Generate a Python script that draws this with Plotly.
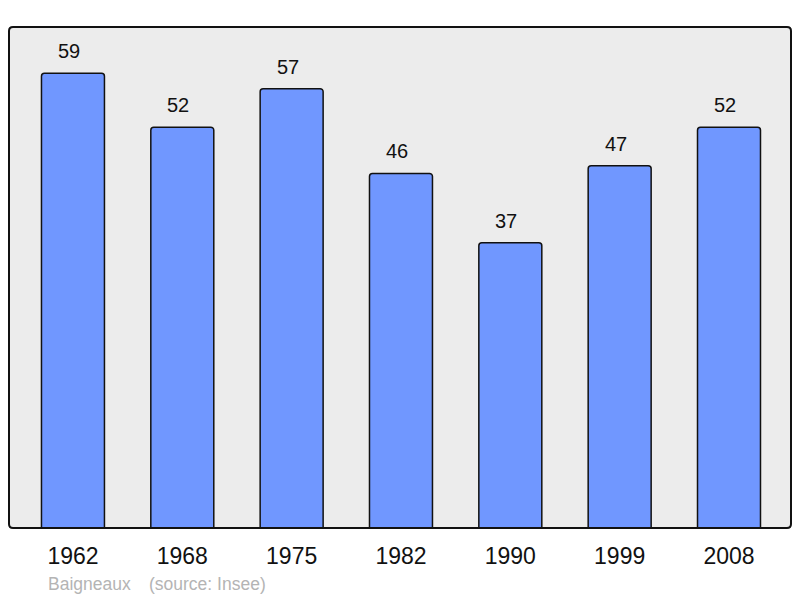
import plotly.graph_objects as go

years = ["1962", "1968", "1975", "1982", "1990", "1999", "2008"]
population = [59, 52, 57, 46, 37, 47, 52]
place = "Baigneaux"
source = "(source: Insee)"

FONT = "Liberation Sans, Arial, sans-serif"

fig = go.Figure()
fig.add_trace(go.Bar(
    x=years, y=population,
    width=0.576,
    marker=dict(color="#7097ff", line=dict(color="#111111", width=1.5), cornerradius=3),
    hoverinfo="x+y",
))

for i, v in enumerate(population):
    fig.add_annotation(x=i, y=v, text=str(v), showarrow=False,
                       yanchor="bottom", yshift=9, xshift=-4,
                       font=dict(family=FONT, size=20, color="#111111"))

# rounded plot border
rx, ry = 4 / 782, 4 / 501
path = (f"M {rx},0 L {1-rx},0 Q 1,0 1,{ry} L 1,{1-ry} Q 1,1 {1-rx},1 "
        f"L {rx},1 Q 0,1 0,{1-ry} L 0,{ry} Q 0,0 {rx},0 Z")
fig.add_shape(type="path", xref="paper", yref="paper", path=path,
              line=dict(color="#111111", width=2), layer="above")

fig.add_annotation(xref="paper", yref="paper", x=(49 - 9) / 782, y=(528 - 584) / 501,
                   xanchor="left", yanchor="middle", text=place, showarrow=False, xshift=-3,
                   font=dict(family=FONT, size=17.5, color="#b4b4b4"))
fig.add_annotation(xref="paper", yref="paper", x=(150 - 9) / 782, y=(528 - 584) / 501,
                   xanchor="left", yanchor="middle", text=source, showarrow=False, xshift=-3,
                   font=dict(family=FONT, size=17.5, color="#b4b4b4"))

fig.update_layout(
    width=800, height=598,
    margin=dict(l=9, r=9, t=27, b=70),
    paper_bgcolor="white", plot_bgcolor="#ececec",
    showlegend=False,
    xaxis=dict(type="category", range=[-0.585, 6.567], showgrid=False, zeroline=False,
               showline=False, ticks="", tickfont=dict(family=FONT, size=23, color="#111111"),
               ticklabelstandoff=12),
    yaxis=dict(range=[0, 65], showgrid=False, zeroline=False, showline=False,
               showticklabels=False, ticks=""),
)

fig.write_html("out.html", config={"displayModeBar": False},
               post_script="document.body.style.margin='0';")
